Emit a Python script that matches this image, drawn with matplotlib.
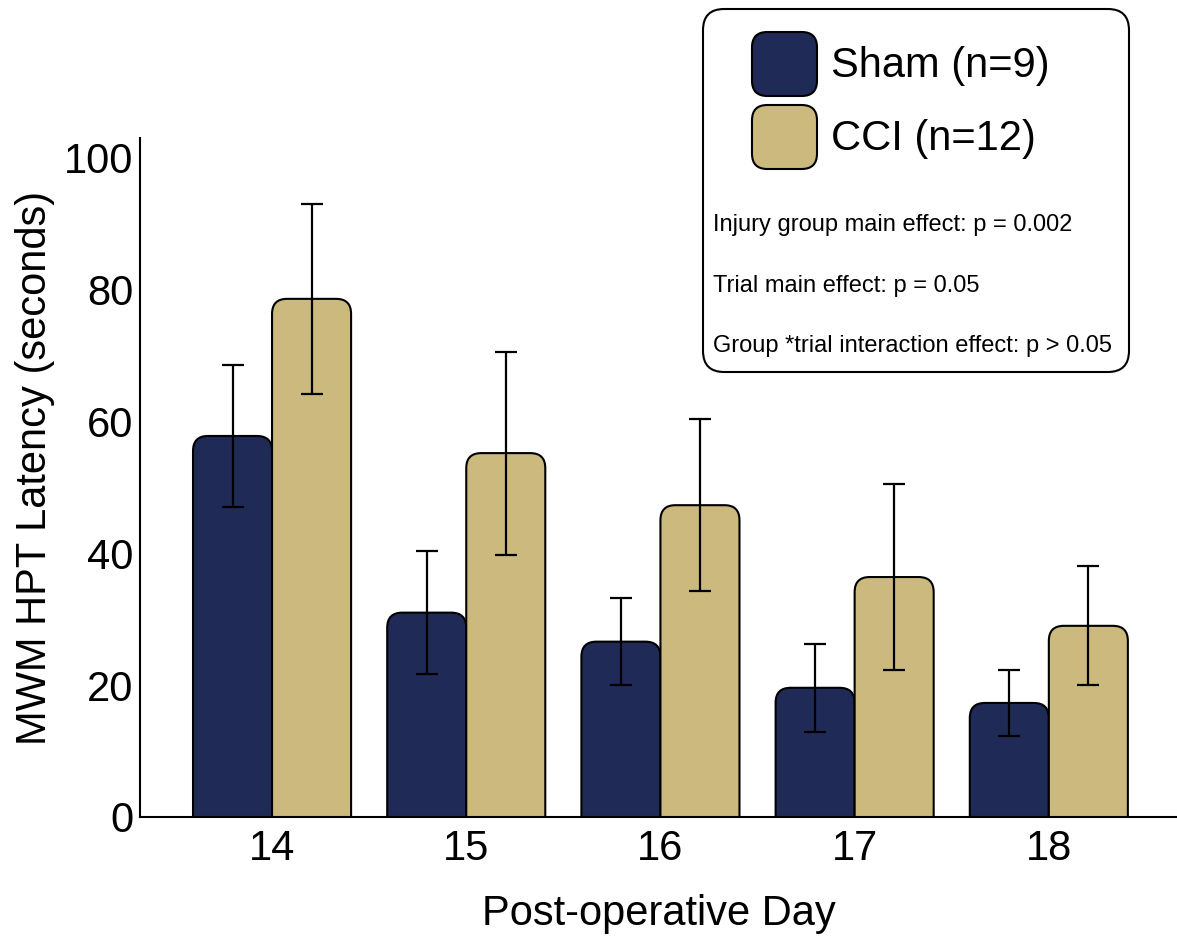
import matplotlib
matplotlib.use("Agg")
import matplotlib.pyplot as plt
from matplotlib.patches import FancyBboxPatch
import numpy as np

plt.rcParams['font.family'] = ['Liberation Sans', 'DejaVu Sans']

days = ["14", "15", "16", "17", "18"]
group_names = ["Sham (n=9)", "CCI (n=12)"]
sham_mean = [57.8, 31.0, 26.6, 19.6, 17.3]
sham_err = [10.8, 9.3, 6.6, 6.7, 5.0]
cci_mean = [78.6, 55.2, 47.3, 36.4, 29.0]
cci_err = [14.4, 15.4, 13.0, 14.1, 9.0]
stats_lines = ["Injury group main effect: p = 0.002",
               "Trial main effect: p = 0.05",
               "Group *trial interaction effect: p > 0.05"]
y_ticks = [0, 20, 40, 60, 80, 100]

navy = "#1F2A57"
tan = "#CCB97D"

W, H = 1177, 936
fig = plt.figure(figsize=(W / 100, H / 100), dpi=100)
ax = fig.add_axes([140 / W, 1 - 817 / H, 1 - 140 / W, (817 - 138) / H])

x = np.arange(len(days))
bw = 0.407
ax.set_xlim(-0.68, 4.66)
ax.set_ylim(0, 103)

# aspect for rounding
px_x = ax.bbox.width / (4.66 + 0.68)
px_y = ax.bbox.height / 103
aspect = px_x / px_y
r = 15 / px_x

for means, errs, off, col in [(sham_mean, sham_err, -bw / 2, navy), (cci_mean, cci_err, bw / 2, tan)]:
    bars = ax.bar(x + off, means, width=bw, color=col, alpha=0)
    for b in bars:
        x0, w, h = b.get_x(), b.get_width(), b.get_height()
        p = FancyBboxPatch((x0, -10), w, h + 10,
                           boxstyle=f"round,pad=0,rounding_size={r}",
                           mutation_aspect=aspect, facecolor=col,
                           edgecolor="black", linewidth=1.5, zorder=2)
        ax.add_patch(p)
    ax.errorbar(x + off, means, yerr=errs, fmt='none', ecolor='black',
                elinewidth=1.6, capsize=8, capthick=1.6, zorder=3)

for s in ["top", "right"]:
    ax.spines[s].set_visible(False)
for s in ["left", "bottom"]:
    ax.spines[s].set_linewidth(1.5)
    ax.spines[s].set_zorder(4)
ax.set_xticks(x)
ax.set_xticklabels(days)
ax.set_yticks(y_ticks)
ax.tick_params(axis='both', length=0, labelsize=30)
ax.tick_params(axis='x', pad=9)
ax.tick_params(axis='y', pad=5)
ax.set_xlabel("Post-operative Day", fontsize=30, labelpad=18)
ax.set_ylabel("MWM HPT Latency (seconds)", fontsize=30)
ax.yaxis.set_label_coords(-0.082, 0.514)

# legend box
def fx(px):
    return px / W

def fy(py):
    return 1 - py / H

box = FancyBboxPatch((fx(703), fy(372)), fx(1129) - fx(703), fy(9) - fy(372),
                     boxstyle="round,pad=0,rounding_size=0.018",
                     mutation_aspect=W / H,
                     transform=fig.transFigure, facecolor="white",
                     edgecolor="black", linewidth=1.5, zorder=10)
fig.add_artist(box)
for (ytop, base, col, lab) in [(32, 77, navy, group_names[0]), (105, 150, tan, group_names[1])]:
    h = FancyBboxPatch((fx(752), fy(ytop + 64)), fx(817) - fx(752), 64 / H,
                       boxstyle="round,pad=0,rounding_size=0.013",
                       mutation_aspect=W / H,
                       transform=fig.transFigure, facecolor=col,
                       edgecolor="black", linewidth=1.5, zorder=11)
    fig.add_artist(h)
    fig.text(fx(831), fy(base), lab, fontsize=30, va='baseline', ha='left', zorder=12)

for yb, line in zip([231, 292, 352], stats_lines):
    fig.text(fx(713), fy(yb), line, fontsize=17, va='baseline', ha='left', zorder=12)

fig.savefig("out.png", dpi=100)
